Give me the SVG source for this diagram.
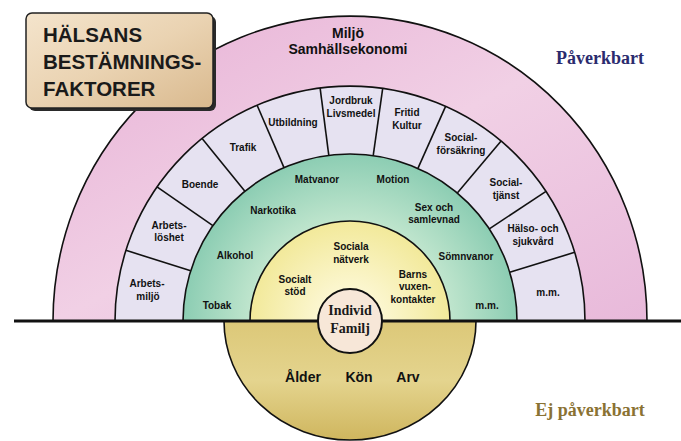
<svg xmlns="http://www.w3.org/2000/svg" width="681" height="441" viewBox="0 0 681 441">
<defs>
<linearGradient id="gPink" x1="0" y1="0" x2="1" y2="1">
<stop offset="0" stop-color="#e7b0d5"/>
<stop offset="0.5" stop-color="#f1d0e5"/>
<stop offset="1" stop-color="#e8b9da"/>
</linearGradient>
<radialGradient id="gGreen" gradientUnits="userSpaceOnUse" cx="350" cy="321" r="167">
<stop offset="0.6" stop-color="#bfe5cd"/>
<stop offset="1" stop-color="#8ccdb3"/>
</radialGradient>
<radialGradient id="gYellow" gradientUnits="userSpaceOnUse" cx="350" cy="321" r="100">
<stop offset="0.3" stop-color="#fcf7d2"/>
<stop offset="1" stop-color="#f2e99a"/>
</radialGradient>
<linearGradient id="gGold" x1="0" y1="0" x2="0" y2="1">
<stop offset="0" stop-color="#dcc878"/>
<stop offset="0.5" stop-color="#e4d48e"/>
<stop offset="1" stop-color="#cfb65e"/>
</linearGradient>
<linearGradient id="gBox" x1="0" y1="0" x2="1" y2="1">
<stop offset="0" stop-color="#f4e4cc"/>
<stop offset="0.5" stop-color="#ead3b2"/>
<stop offset="1" stop-color="#d9b98e"/>
</linearGradient>
<style>
.ring{stroke:#111;stroke-width:1.6}
.div{stroke:#111;stroke-width:1.6}
.lbl{font-family:"Liberation Sans",Arial,sans-serif;font-weight:bold;font-size:10px;fill:#111;text-anchor:middle}
.big{font-family:"Liberation Sans",Arial,sans-serif;font-weight:bold;font-size:14px;fill:#111;text-anchor:middle}
.bot{font-family:"Liberation Sans",Arial,sans-serif;font-weight:bold;font-size:14px;fill:#111;text-anchor:middle}
.ser{font-family:"Liberation Serif","Times New Roman",serif;font-weight:bold;text-anchor:middle}
.title{font-family:"Liberation Sans",Arial,sans-serif;font-weight:bold;font-size:20.5px;fill:#1a1a1a}
</style>
</defs>
<rect width="681" height="441" fill="#ffffff"/>

<g id="outer">
<path class="ring" d="M53,321 A297,305 0 0 1 647,321 Z" fill="url(#gPink)"/>
<text class="big" x="348" y="38">Miljö</text>
<text class="big" x="348" y="54">Samhällsekonomi</text>
</g>

<g id="samhalle">
<path class="ring" d="M115,321 A235,235 0 0 1 585,321 Z" fill="#e6e2f1"/>
<text class="lbl" x="147" y="287">Arbets-</text>
<text class="lbl" x="148" y="299.5">miljö</text>
<text class="lbl" x="169" y="229">Arbets-</text>
<text class="lbl" x="169" y="241">löshet</text>
<text class="lbl" x="200" y="187.5">Boende</text>
<text class="lbl" x="243" y="151">Trafik</text>
<text class="lbl" x="293" y="126">Utbildning</text>
<text class="lbl" x="351" y="104">Jordbruk</text>
<text class="lbl" x="351" y="116.5">Livsmedel</text>
<text class="lbl" x="407" y="116">Fritid</text>
<text class="lbl" x="407" y="128.5">Kultur</text>
<text class="lbl" x="461" y="141">Social-</text>
<text class="lbl" x="461" y="153.5">försäkring</text>
<text class="lbl" x="506" y="186">Social-</text>
<text class="lbl" x="506" y="198.5">tjänst</text>
<text class="lbl" x="533" y="232">Hälso- och</text>
<text class="lbl" x="533" y="244.5">sjukvård</text>
<text class="lbl" x="548" y="296">m.m.</text>
</g>

<g id="levnadsvanor">
<path class="ring" d="M183,321 A167,167 0 0 1 517,321 Z" fill="url(#gGreen)"/>
<text class="lbl" x="317" y="183">Matvanor</text>
<text class="lbl" x="393" y="183">Motion</text>
<text class="lbl" x="273" y="214">Narkotika</text>
<text class="lbl" x="434" y="211">Sex och</text>
<text class="lbl" x="434" y="223">samlevnad</text>
<text class="lbl" x="235" y="259">Alkohol</text>
<text class="lbl" x="466" y="259.5">Sömnvanor</text>
<text class="lbl" x="217" y="308.5">Tobak</text>
<text class="lbl" x="487" y="308.5">m.m.</text>
</g>

<g id="socialt">
<path class="ring" d="M250,321 A100,100 0 0 1 450,321 Z" fill="url(#gYellow)"/>
<text class="lbl" x="351" y="250">Sociala</text>
<text class="lbl" x="351" y="262.5">nätverk</text>
<text class="lbl" x="295" y="283">Socialt</text>
<text class="lbl" x="295" y="295">stöd</text>
<text class="lbl" x="413" y="277.5">Barns</text>
<text class="lbl" x="415" y="290">vuxen-</text>
<text class="lbl" x="413" y="302.5">kontakter</text>
</g>

<g id="ejpaverkbart-halva">
<path class="ring" d="M224,321 A126,119 0 0 0 476,321 Z" fill="url(#gGold)"/>
<text class="bot" x="303" y="382">Ålder</text>
<text class="bot" x="359" y="382">Kön</text>
<text class="bot" x="408" y="382">Arv</text>
</g>

<g id="connectors">
<line x1="14" y1="321" x2="681" y2="321" stroke="#111" stroke-width="3"/>
<g class="div">
<line x1="190.7" y1="270.8" x2="125.9" y2="250.3"/>
<line x1="212.9" y1="225.7" x2="157" y2="186.9"/>
<line x1="244.9" y1="191.2" x2="202.1" y2="138.4"/>
<line x1="284" y1="167.6" x2="257.1" y2="105.2"/>
<line x1="328.8" y1="155.4" x2="320.1" y2="87.9"/>
<line x1="373.2" y1="155.6" x2="382.7" y2="88.3"/>
<line x1="417.9" y1="168.4" x2="445.6" y2="106.3"/>
<line x1="457.3" y1="193.1" x2="501.1" y2="141"/>
<line x1="489.3" y1="228.8" x2="546" y2="191.3"/>
<line x1="509.7" y1="272.2" x2="574.7" y2="252.3"/>
</g>
</g>

<g id="individ">
<circle cx="350" cy="321" r="32" fill="#f7e7d8" stroke="#111" stroke-width="2"/>
<text class="ser" x="350" y="315" font-size="14" fill="#1a1a1a">Individ</text>
<text class="ser" x="350" y="333" font-size="14" fill="#1a1a1a">Familj</text>
</g>

<g id="title">
<rect x="29" y="16" width="187" height="95" rx="6" fill="#2a2a2a"/>
<rect x="26" y="13" width="187" height="95" rx="6" fill="url(#gBox)" stroke="#222" stroke-width="1.5"/>
<text class="title" x="43" y="42">HÄLSANS</text>
<text class="title" x="43" y="69">BESTÄMNINGS-</text>
<text class="title" x="43" y="96">FAKTORER</text>
</g>

<g id="legend">
<text class="ser" x="600" y="64" font-size="18" fill="#2b2b6e">Påverkbart</text>
<text class="ser" x="590" y="416" font-size="18" fill="#8a7233">Ej påverkbart</text>
</g>
</svg>
